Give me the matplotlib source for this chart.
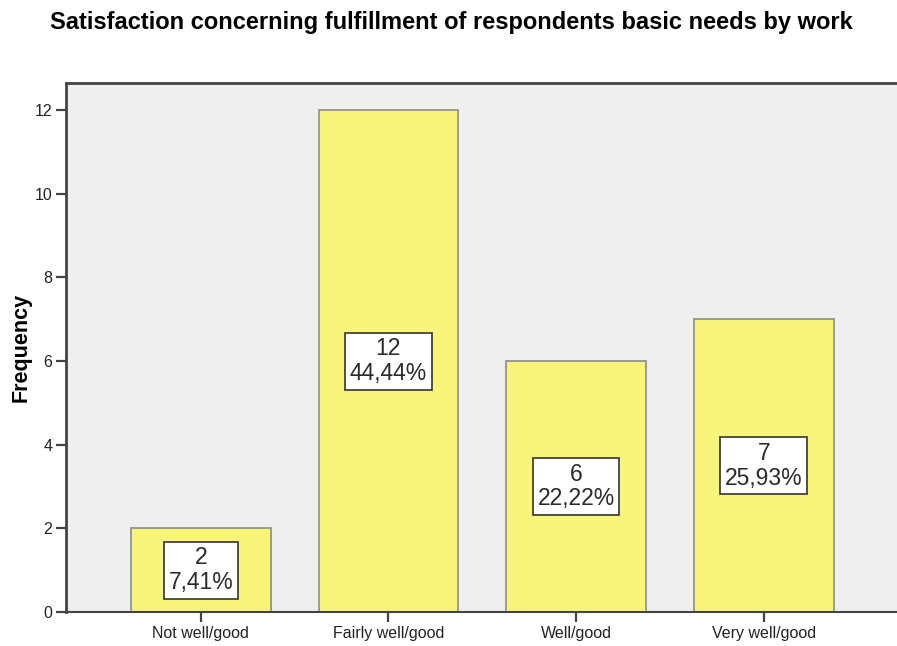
import numpy as np
import matplotlib.pyplot as plt
import matplotlib as mpl

mpl.rcParams['font.family'] = ['Liberation Sans', 'DejaVu Sans']

# frequencies per answer category
categories = ['Not well/good', 'Fairly well/good', 'Well/good', 'Very well/good']
counts = [2, 12, 6, 7]
percents = ['7,41%', '44,44%', '22,22%', '25,93%']
yticks = [0, 2, 4, 6, 8, 10, 12]

fig = plt.figure(figsize=(8.97, 6.46), dpi=100)
ax = fig.add_axes([0.0736, 0.0526, 0.9264, 0.819])

x = np.arange(len(categories))
ax.set_facecolor('#efefef')
ax.bar(x, counts, width=0.745, color='#f9f57a', edgecolor='#8c8c8c', linewidth=1.2, zorder=2)

for xi, c, p in zip(x, counts, percents):
    ax.text(xi, c / 2, f'{c}\n{p}', ha='center', va='center', fontsize=16.5,
            color='#2a2a2a', linespacing=1.1, zorder=3,
            bbox=dict(facecolor='white', edgecolor='#333333', linewidth=1.2, boxstyle='square,pad=0.2'))

ax.set_xlim(-0.718, 3.71)
ax.set_ylim(0, 12.65)
ax.set_xticks(x)
ax.set_xticklabels(categories, fontsize=11.5, color='#222222')
ax.set_yticks(yticks)
ax.set_yticklabels([str(t) for t in yticks], fontsize=11.5, color='#222222')
ax.tick_params(axis='both', direction='out', length=7, width=1.6, color='#444444', pad=3)

for s in ['left', 'top']:
    ax.spines[s].set_color('#444444')
    ax.spines[s].set_linewidth(2)
ax.spines['bottom'].set_color('#444444')
ax.spines['bottom'].set_linewidth(1.5)
ax.spines['right'].set_visible(False)

ax.set_ylabel('Frequency', fontsize=15.5, fontweight='bold', labelpad=2)
fig.text(0.503, 0.965, 'Satisfaction concerning fulfillment of respondents basic needs by work',
         ha='center', va='center', fontsize=17, fontweight='bold')

plt.savefig('out.png', dpi=100)
